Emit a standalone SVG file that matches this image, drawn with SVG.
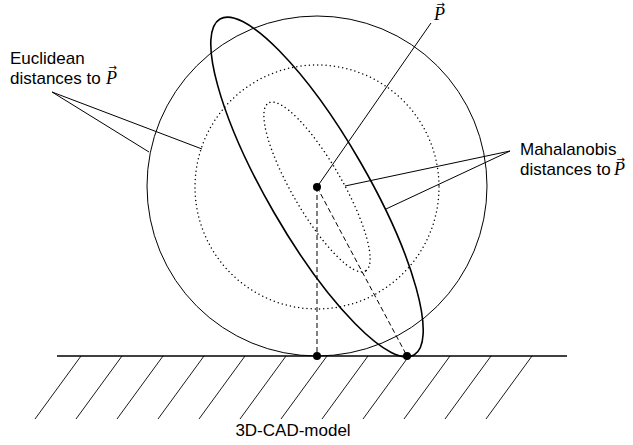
<svg xmlns="http://www.w3.org/2000/svg" width="633" height="445" viewBox="0 0 633 445">
<style>
.s{fill:none;stroke:#000;stroke-width:1}
.thick{fill:none;stroke:#000;stroke-width:1.6}
.dot{fill:none;stroke:#000;stroke-width:1.5;stroke-dasharray:0 4.2;stroke-linecap:round}
.dash{fill:none;stroke:#000;stroke-width:1;stroke-dasharray:5 3}
.hatch{stroke:#000;stroke-width:0.9}
.pt{fill:#000}
.lbl{font-family:"Liberation Sans",Arial,sans-serif;font-size:17px;fill:#000}
.vec{font-family:"Liberation Serif","DejaVu Serif",serif;font-style:italic;font-size:18px;fill:#000}
.arr{font-family:"DejaVu Sans",sans-serif;font-style:normal;font-size:10px}
</style>
<rect width="633" height="445" fill="#fff"/>
<g id="ground">
<line x1="57" y1="356" x2="567" y2="356" stroke="#000" stroke-width="1.3"/>
<g class="hatch">
<line x1="81" y1="356" x2="35" y2="419"/>
<line x1="122" y1="356" x2="76" y2="419"/>
<line x1="163" y1="356" x2="117" y2="419"/>
<line x1="204" y1="356" x2="158" y2="419"/>
<line x1="245" y1="356" x2="199" y2="419"/>
<line x1="286" y1="356" x2="240" y2="419"/>
<line x1="327" y1="356" x2="281" y2="419"/>
<line x1="368" y1="356" x2="322" y2="419"/>
<line x1="409" y1="356" x2="363" y2="419"/>
<line x1="450" y1="356" x2="404" y2="419"/>
<line x1="491" y1="356" x2="445" y2="419"/>
<line x1="532" y1="356" x2="486" y2="419"/>
</g>
<text class="lbl" x="293" y="436" text-anchor="middle">3D-CAD-model</text>
</g>
<g id="euclidean-outer"><circle class="s" cx="317" cy="186" r="170"/></g>
<g id="euclidean-inner"><circle class="dot" cx="317" cy="187" r="122"/></g>
<g id="mahalanobis-outer"><ellipse class="thick" cx="317" cy="187" rx="194" ry="50" transform="rotate(60 317 187)"/></g>
<g id="mahalanobis-inner"><ellipse class="dot" cx="317" cy="187" rx="97" ry="25" transform="rotate(60 317 187)"/></g>
<g id="connectors">
<line class="s" x1="317" y1="187" x2="431" y2="23"/>
<line class="dash" x1="317" y1="187" x2="317" y2="356"/>
<line class="dash" x1="317" y1="187" x2="407" y2="356"/>
<line class="s" x1="52" y1="92" x2="149" y2="152"/>
<line class="s" x1="52" y1="92" x2="202" y2="149"/>
<line class="s" x1="510" y1="151" x2="345" y2="186"/>
<line class="s" x1="510" y1="151" x2="386" y2="209"/>
</g>
<g id="point-P"><circle class="pt" cx="317" cy="187" r="4"/>
<text class="vec" x="434" y="20">P<tspan class="arr" dx="-8.5" dy="-12.5">→</tspan></text></g>
<g id="foot-1"><circle class="pt" cx="317" cy="356" r="4"/></g>
<g id="foot-2"><circle class="pt" cx="407" cy="356" r="4"/></g>
<g id="label-euclidean">
<text class="lbl" x="10" y="63.5">Euclidean</text>
<text class="lbl" x="10" y="83.5">distances to <tspan class="vec" x="106">P</tspan><tspan class="arr" dx="-8.5" dy="-12.5">→</tspan></text>
</g>
<g id="label-mahalanobis">
<text class="lbl" x="520" y="155">Mahalanobis</text>
<text class="lbl" x="520" y="175">distances to <tspan class="vec" x="614">P</tspan><tspan class="arr" dx="-8.5" dy="-12.5">→</tspan></text>
</g>
</svg>
